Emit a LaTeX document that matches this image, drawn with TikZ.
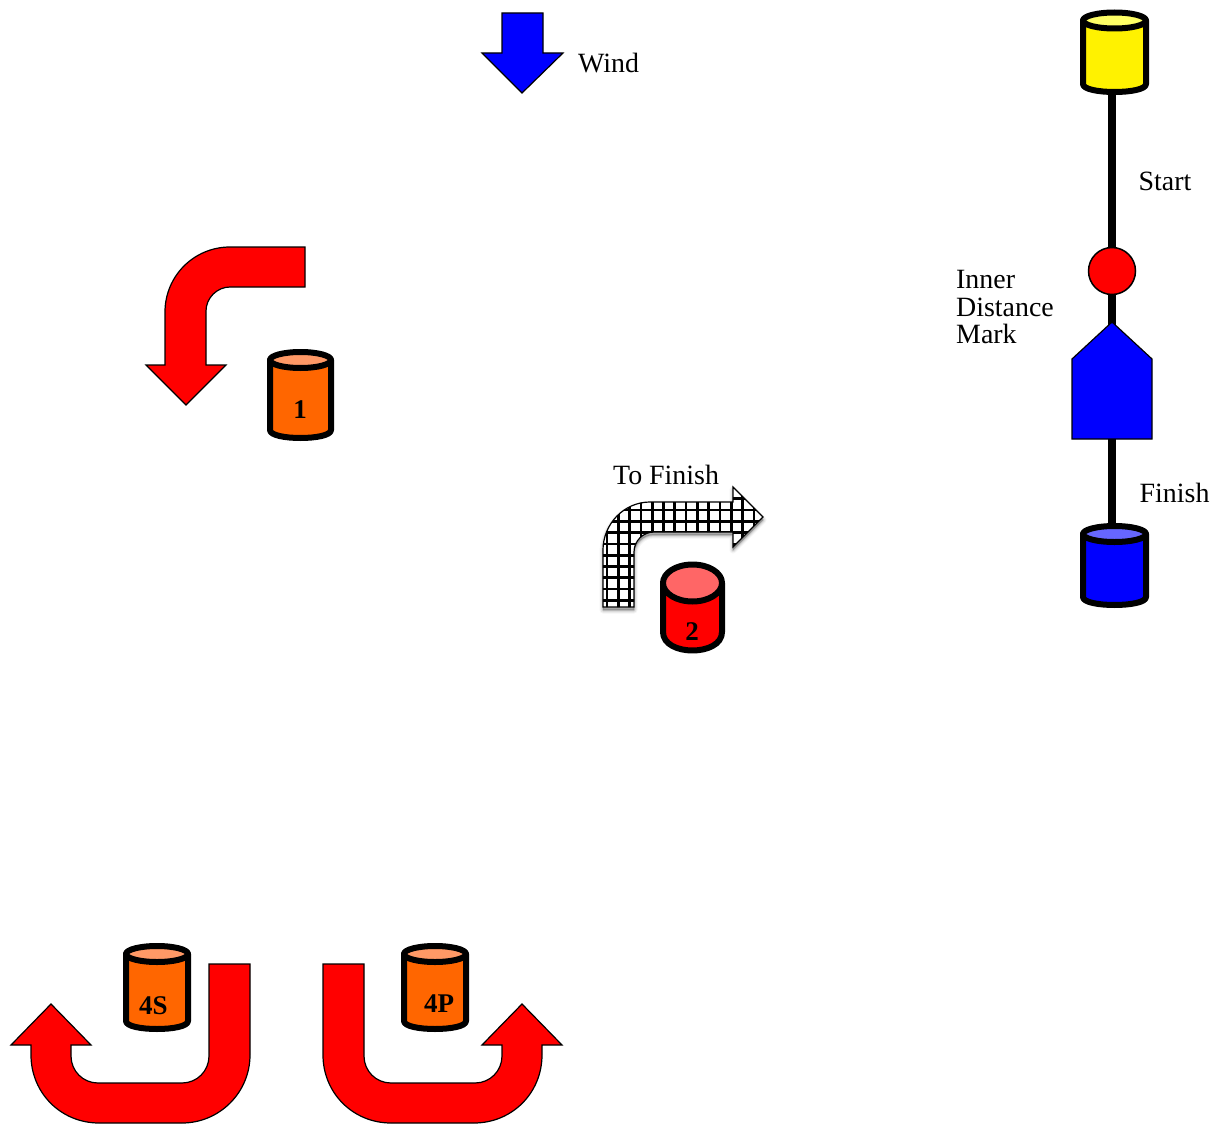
\documentclass[tikz,border=0pt]{standalone}
\usepackage{fontspec}
\setmainfont{Liberation Serif}
\definecolor{cOrange}{HTML}{FF6600}
\definecolor{cOrangeTop}{HTML}{FF9966}
\definecolor{cRedTop}{HTML}{FF6666}
\definecolor{cBlueTop}{HTML}{6666FF}
\definecolor{cYellowTop}{HTML}{FFFF66}
\tikzset{
  thinedge/.style={draw=black,line width=1.2pt,line join=miter},
  redarrow/.style={thinedge,fill=red},
  barrelline/.style={draw=black,line width=6pt,line join=round},
  lab/.style={inner sep=0pt,anchor=base west,font=\fontsize{27.9}{28}\selectfont},
  barrellab/.style={inner sep=0pt,anchor=base,font=\fontsize{27}{28}\selectfont\bfseries},
  pole/.style={draw=black,line width=8.5pt},
  redmark/.style={circle,draw=black,line width=1.5pt,fill=red,minimum size=47pt,inner sep=0pt}
}
% name, x0, x1, y of top centre, ry, y of bottom centre, body, top
\newcommand{\barrel}[8]{%
  \path[barrelline,fill=#7] (#2,#4) -- (#2,#6)
    .. controls (#2,{#6+1.333*#5}) and (#3,{#6+1.333*#5}) .. (#3,#6)
    -- (#3,#4) -- cycle;
  \path[barrelline,fill=#8] ({(#2+#3)/2},#4) ellipse [x radius={(#3-#2)/2},y radius=#5];
  \coordinate (#1) at ({(#2+#3)/2},#6);
}
\newcommand{\checkerpath}{(603,607) -- (603,550) .. controls (603,524) and (624,502) .. (650,502) -- (733,502) -- (733,487) -- (763,517) -- (733,547) -- (733,532) -- (654,532) .. controls (643,532) and (634,541) .. (634,552) -- (634,607) -- cycle}
\begin{document}
\begin{tikzpicture}[x=1pt,y=-1pt]
\useasboundingbox (0,0) rectangle (1219,1124);
% course line
\coordinate (startbarrel) at (1112,90);
\coordinate (finishbarrel) at (1112,532);
\draw[pole] (startbarrel) -- (finishbarrel);
% wind
\path[thinedge,fill=blue] (502,13) -- (543,13) -- (543,53) -- (563,53) -- (522,93) -- (482,53) -- (502,53) -- cycle;
\node[lab] (wind) at (578,73) {Wind};
% start barrel
\barrel{yellowbarrel}{1083}{1146}{20.5}{8}{84}{yellow}{cYellowTop}
\node[lab] (start) at (1138.5,190) {Start};
\node[redmark] (mark) at (1112,271) {};
\node[lab] (inner) at (956,288) {Inner};
\node[lab] (distance) at (956,316) {Distance};
\node[lab] (marktext) at (956,343) {Mark};
\path[thinedge,fill=blue] (1112,322) -- (1152,359) -- (1152,439) -- (1072,439) -- (1072,359) -- cycle;
\node[lab] (finish) at (1139.5,502) {Finish};
\barrel{bluebarrel}{1083}{1146}{534}{8}{597}{blue}{cBlueTop}
% mark 1
\path[redarrow] (305,247) -- (230,247) .. controls (194,247) and (165,276) .. (165,312) -- (165,365) -- (146,365) -- (186,405) -- (226,365) -- (206,365) -- (206,311) .. controls (206,298) and (217,287) .. (230,287) -- (305,287) -- cycle;
\barrel{barrelone}{270}{331}{360}{8}{430}{cOrange}{cOrangeTop}
\node[barrellab] (one) at (300,418) {1};
% mark 2
\foreach \s/\o in {7/0.04,5/0.06,3/0.08,1.5/0.1}{
  \path[fill=black,opacity=\o,line width=\s pt,draw=black,line join=round]
    (603,610) -- (603,553) .. controls (603,527) and (624,505) .. (650,505) -- (733,505) -- (733,490) -- (763,520) -- (733,550) -- (733,535) -- (654,535) .. controls (643,535) and (634,544) .. (634,555) -- (634,610) -- cycle;
}
\fill[white] \checkerpath;
\begin{scope}
  \clip \checkerpath;
  \foreach \n in {-1,...,13}{
    \draw[black,line width=2.7pt] ({618.3+11.3*\n},480) -- ({618.3+11.3*\n},610);
  }
  \foreach \n in {-2,...,9}{
    \draw[black,line width=2.7pt] (600,{510+11.3*\n}) -- (770,{510+11.3*\n});
  }
\end{scope}
\path[thinedge] \checkerpath;
\node[lab] (tofinish) at (613,484) {To Finish};
\barrel{barreltwo}{663}{722}{583}{18.5}{632}{red}{cRedTop}
\node[barrellab] (two) at (692,640) {2};
% marks 4S, 4P
\path[redarrow] (250,964) -- (250,1055) .. controls (250,1093) and (219,1123) .. (182,1123) -- (99,1123) .. controls (61,1123) and (31,1093) .. (31,1055) -- (31,1045) -- (11,1045) -- (51,1004) -- (91,1045) -- (71,1045) -- (71,1056) .. controls (71,1071) and (83,1083) .. (98,1083) -- (182,1083) .. controls (197,1083) and (209,1071) .. (209,1056) -- (209,964) -- cycle;
\barrel{barrelfours}{126}{188}{954}{8}{1021}{cOrange}{cOrangeTop}
\node[barrellab,anchor=base west] (fours) at (139,1014) {4S};
\path[redarrow] (323,964) -- (323,1055) .. controls (323,1093) and (353,1123) .. (391,1123) -- (474,1123) .. controls (512,1123) and (542,1093) .. (542,1055) -- (542,1045) -- (562,1045) -- (522,1004) -- (482,1045) -- (502,1045) -- (502,1056) .. controls (502,1071) and (490,1083) .. (475,1083) -- (391,1083) .. controls (376,1083) and (364,1071) .. (364,1056) -- (364,964) -- cycle;
\barrel{barrelfourp}{404}{466}{954}{8}{1021}{cOrange}{cOrangeTop}
\node[barrellab,anchor=base west] (fourp) at (424,1012) {4P};
\end{tikzpicture}
\end{document}
